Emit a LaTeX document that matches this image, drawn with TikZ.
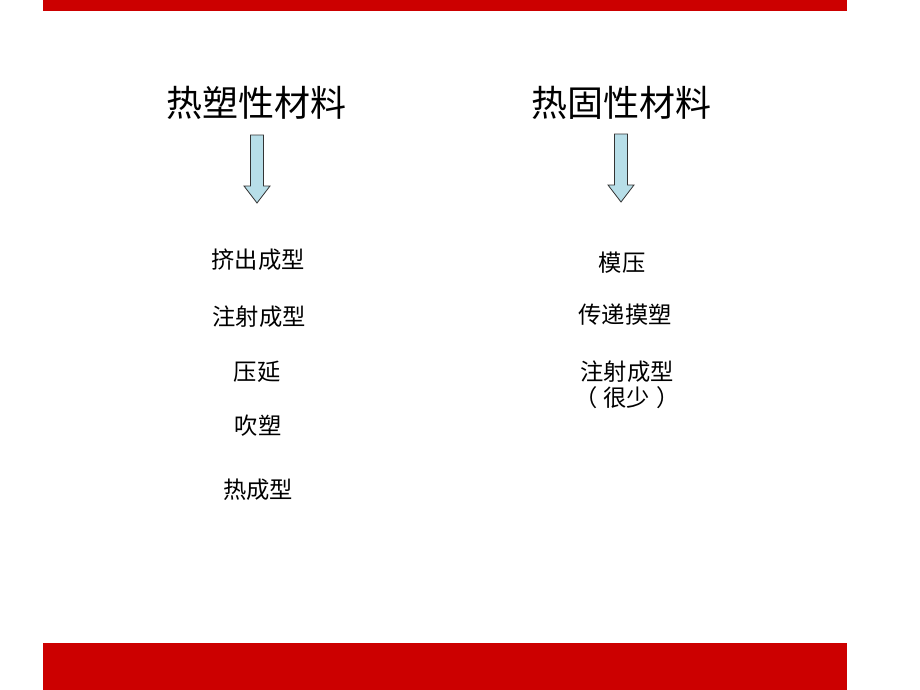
\documentclass[tikz,border=0pt]{standalone}
\usepackage{fontspec}
\setmainfont{Noto Sans CJK SC}
\definecolor{barred}{HTML}{CC0000}
\definecolor{arrowfill}{HTML}{B7DEE8}
\begin{document}
\begin{tikzpicture}[x=1pt,y=-1pt,
  title/.style={font=\fontsize{36}{42}\selectfont, inner sep=0pt},
  item/.style={font=\fontsize{23.3}{27}\selectfont, inner sep=0pt},
  downarrow/.style={draw=black!80, line width=0.8pt, fill=arrowfill}]
\useasboundingbox (0,0) rectangle (920,690);
\fill[barred] (43,0) rectangle (847,11);
\fill[barred] (43,643) rectangle (847,690);
% titles
\node[title] (t1) at (256,103) {热塑性材料};
\node[title] (t2) at (621,103) {热固性材料};
% arrows
\draw[downarrow] (250.5,135) -- (263.5,135) -- (263.5,186) -- (270,186) -- (257,203) -- (244,186) -- (250.5,186) -- cycle;
\draw[downarrow] (614.5,134) -- (627.5,134) -- (627.5,185) -- (634,185) -- (621,202) -- (608,185) -- (614.5,185) -- cycle;
% left items
\node[item] (l1) at (258,260) {挤出成型};
\node[item] (l2) at (259,317) {注射成型};
\node[item] (l3) at (257,372) {压延};
\node[item] (l4) at (258,426) {吹塑};
\node[item] (l5) at (258,490) {热成型};
% right items
\node[item] (r1) at (622,263) {模压};
\node[item] (r2) at (625,315) {传递摸塑};
\node[item] (r3) at (627,372) {注射成型};
\node[item] (r4) at (627,398) {（\hspace{6pt}很少\hspace{6pt}）};
\end{tikzpicture}
\end{document}
